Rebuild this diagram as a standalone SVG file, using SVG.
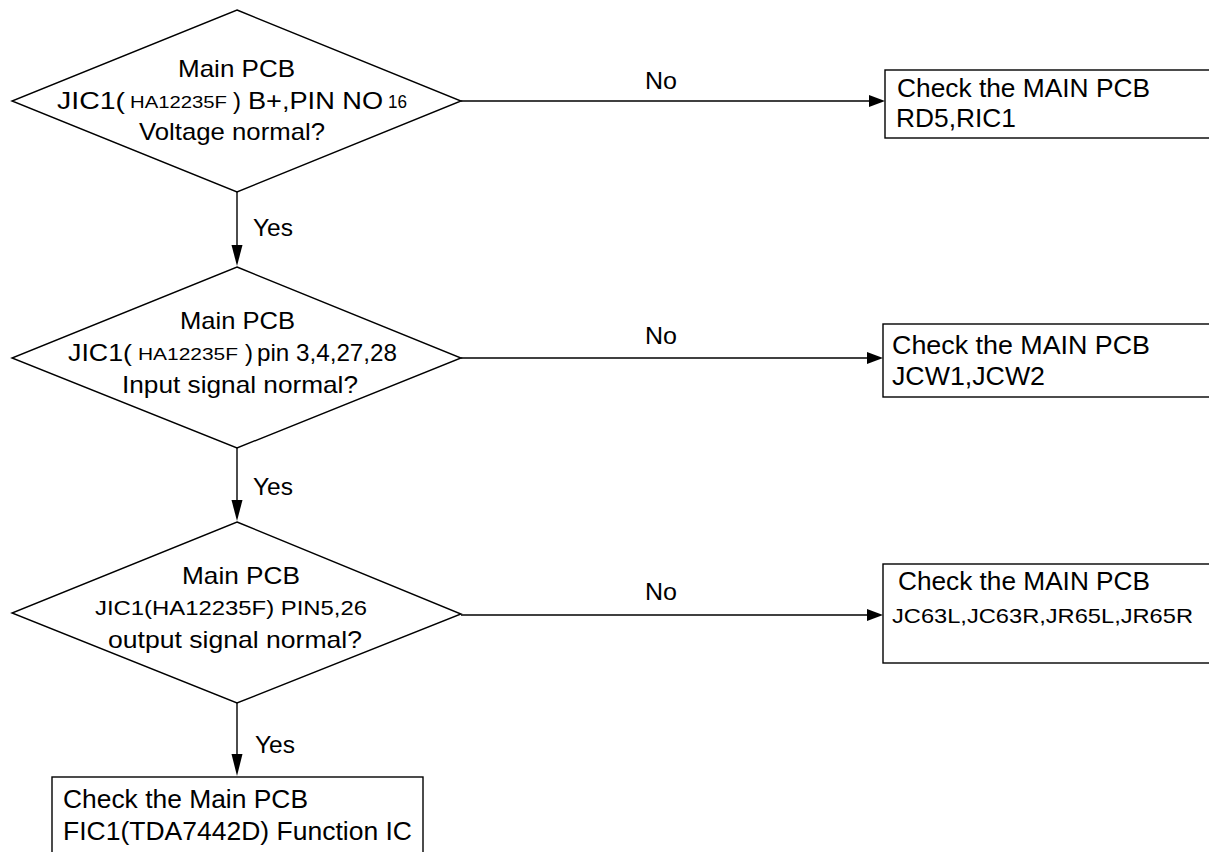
<svg xmlns="http://www.w3.org/2000/svg" width="1209" height="852" viewBox="0 0 1209 852">
<style>
.s{fill:#fff;stroke:#000;stroke-width:1.4}
.l{fill:none;stroke:#000;stroke-width:1.4}
.h{fill:#000;stroke:none}
text{font-family:"Liberation Sans",Arial,sans-serif;fill:#000}
.d{font-size:24px}
.b{font-size:25.5px}
</style>
<rect width="1209" height="852" fill="#fff"/>
<g id="connectors">
<line class="l" x1="461" y1="101" x2="872" y2="101"/>
<polygon class="h" points="869,95 885,101 869,107"/>
<line class="l" x1="461" y1="358" x2="870" y2="358"/>
<polygon class="h" points="867,352 883,358 867,364"/>
<line class="l" x1="461" y1="615" x2="870" y2="615"/>
<polygon class="h" points="867,609 883,615 867,621"/>
<line class="l" x1="237" y1="192" x2="237" y2="248"/>
<polygon class="h" points="231.5,245 242.5,245 237,266"/>
<line class="l" x1="237" y1="448" x2="237" y2="503"/>
<polygon class="h" points="231.5,500 242.5,500 237,521"/>
<line class="l" x1="237" y1="703" x2="237" y2="757"/>
<polygon class="h" points="231.5,754 242.5,754 237,776"/>
<text class="d" x="645" y="89" textLength="32" lengthAdjust="spacingAndGlyphs">No</text>
<text class="d" x="645" y="344" textLength="32" lengthAdjust="spacingAndGlyphs">No</text>
<text class="d" x="645" y="600" textLength="32" lengthAdjust="spacingAndGlyphs">No</text>
<text class="d" x="253" y="236" textLength="40" lengthAdjust="spacingAndGlyphs">Yes</text>
<text class="d" x="253" y="495" textLength="40" lengthAdjust="spacingAndGlyphs">Yes</text>
<text class="d" x="255" y="753" textLength="40" lengthAdjust="spacingAndGlyphs">Yes</text>
</g>
<g id="d1">
<polygon class="s" points="237,10 461,101 237,192 12,101"/>
<text class="d" x="178" y="77" textLength="117" lengthAdjust="spacingAndGlyphs">Main PCB</text>
<text class="d" x="57" y="109" textLength="68" lengthAdjust="spacingAndGlyphs">JIC1(</text>
<text x="130" y="108" font-size="16" textLength="97" lengthAdjust="spacingAndGlyphs">HA12235F</text>
<text class="d" x="233" y="109">)</text>
<text class="d" x="248" y="109" textLength="135" lengthAdjust="spacingAndGlyphs">B+,PIN NO</text>
<text x="388" y="108" font-size="19" textLength="19" lengthAdjust="spacingAndGlyphs">16</text>
<text class="d" x="139" y="140" textLength="186" lengthAdjust="spacingAndGlyphs">Voltage normal?</text>
</g>
<g id="d2">
<polygon class="s" points="237,267 461,358 237,448 12,358"/>
<text class="d" x="180" y="329" textLength="115" lengthAdjust="spacingAndGlyphs">Main PCB</text>
<text class="d" x="68" y="361" textLength="64" lengthAdjust="spacingAndGlyphs">JIC1(</text>
<text x="138" y="360" font-size="17" textLength="100" lengthAdjust="spacingAndGlyphs">HA12235F</text>
<text class="d" x="245" y="361">)</text>
<text class="d" x="257" y="361" textLength="140" lengthAdjust="spacingAndGlyphs">pin 3,4,27,28</text>
<text class="d" x="122" y="393" textLength="236" lengthAdjust="spacingAndGlyphs">Input signal normal?</text>
</g>
<g id="d3">
<polygon class="s" points="237,522 461,614 237,703 12,613"/>
<text class="d" x="182" y="584" textLength="118" lengthAdjust="spacingAndGlyphs">Main PCB</text>
<text x="95" y="615" font-size="21" textLength="272" lengthAdjust="spacingAndGlyphs">JIC1(HA12235F) PIN5,26</text>
<text class="d" x="108" y="648" textLength="254" lengthAdjust="spacingAndGlyphs">output signal normal?</text>
</g>
<g id="b1">
<rect class="s" x="885" y="70" width="340" height="68"/>
<text class="b" x="897" y="97" textLength="253" lengthAdjust="spacingAndGlyphs">Check the MAIN PCB</text>
<text class="b" x="896" y="127" textLength="120" lengthAdjust="spacingAndGlyphs">RD5,RIC1</text>
</g>
<g id="b2">
<rect class="s" x="883" y="324" width="340" height="73"/>
<text class="b" x="892" y="354" textLength="258" lengthAdjust="spacingAndGlyphs">Check the MAIN PCB</text>
<text class="b" x="892" y="385" textLength="153" lengthAdjust="spacingAndGlyphs">JCW1,JCW2</text>
</g>
<g id="b3">
<rect class="s" x="883" y="564" width="340" height="99"/>
<text class="b" x="898" y="590" textLength="252" lengthAdjust="spacingAndGlyphs">Check the MAIN PCB</text>
<text x="892" y="623" font-size="21" textLength="301" lengthAdjust="spacingAndGlyphs">JC63L,JC63R,JR65L,JR65R</text>
</g>
<g id="b4">
<rect class="s" x="52" y="777" width="371" height="90"/>
<text class="b" x="63" y="808" textLength="245" lengthAdjust="spacingAndGlyphs">Check the Main PCB</text>
<text class="b" x="63" y="840" textLength="349" lengthAdjust="spacingAndGlyphs">FIC1(TDA7442D) Function IC</text>
</g>
</svg>
